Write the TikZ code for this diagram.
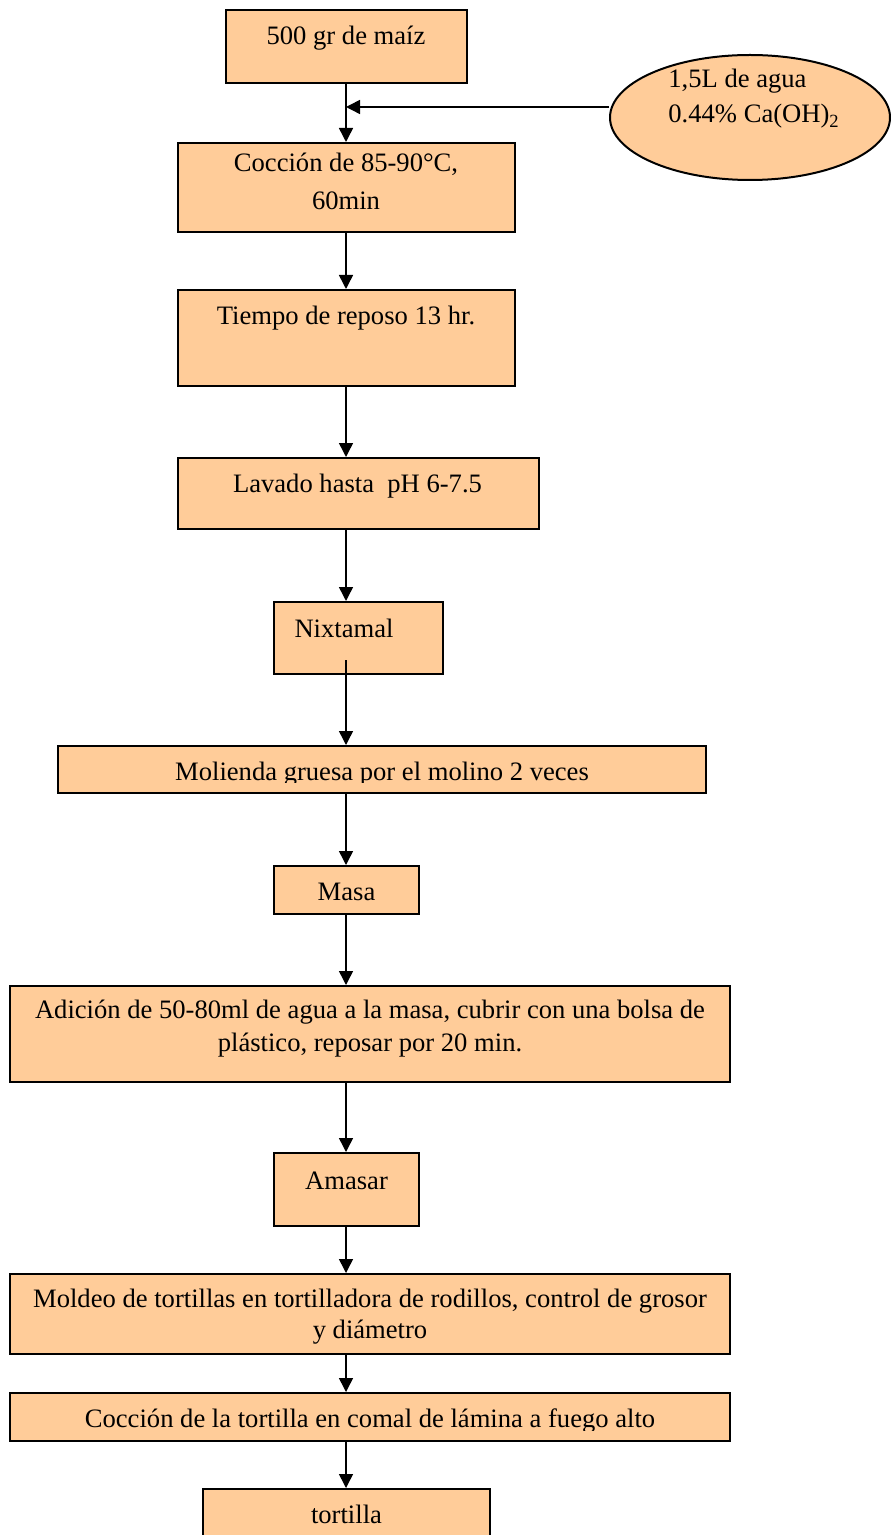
\documentclass[tikz,border=0pt]{standalone}
\usepackage{fontspec}
\setmainfont{Liberation Serif}
\usetikzlibrary{arrows.meta,shapes.geometric,fit}
\definecolor{peach}{HTML}{FFCC99}
\begin{document}
\begin{tikzpicture}[x=0.5pt,y=-0.5pt,
  box/.style={draw=black, line width=1pt, fill=peach, inner sep=0pt},
  txt/.style={inner sep=0pt, anchor=base, font=\fontsize{13.3pt}{16pt}\selectfont},
  arr/.style={line width=0.75pt, -{Triangle[length=7pt,width=7pt]}}]
\useasboundingbox (0,0) rectangle (890,1535);
\coordinate (ax) at (346,0);
% boxes
\node[box, fit={(226,10) (467,83)}] (b1) {};
\node[box, ellipse, minimum width=140pt, minimum height=62.5pt] (el) at (750,117.5) {};
\node[box, fit={(178,143) (515,232)}] (b2) {};
\node[box, fit={(178,290) (515,386)}] (b3) {};
\node[box, fit={(178,458) (539,529)}] (b4) {};
\node[box, fit={(274,602) (443,674)}] (b5) {};
\node[box, fit={(58,746) (706,793)}] (b6) {};
\node[box, fit={(274,866) (419,914)}] (b7) {};
\node[box, fit={(10,986) (730,1082)}] (b8) {};
\node[box, fit={(274,1153) (419,1226)}] (b9) {};
\node[box, fit={(10,1274) (730,1354)}] (b10) {};
\node[box, fit={(10,1393) (730,1441)}] (b11) {};
\node[box, fit={(203,1489) (490,1550)}] (b12) {};
% texts
\node[txt] (t1) at (346,45) {500 gr de maíz};
\node[txt, anchor=base west] (te1) at (668,88) {1,5L de agua};
\node[txt, anchor=base west] (te2) at (668,123) {0.44\% Ca(OH)\textsubscript{2}};
\node[txt] (t2a) at (346,172) {Cocción de 85-90°C,};
\node[txt] (t2b) at (346,210) {60min};
\node[txt] (t3) at (346,325) {Tiempo de reposo 13 hr.};
\node[txt] (t4) at (357.5,492) {Lavado hasta\ \ pH 6-7.5};
\node[txt] (t5) at (344,637) {Nixtamal};
\begin{scope}
  \clip (58,746) rectangle (706,782);
  \node[txt] (t6) at (382,780) {Molienda gruesa por el molino 2 veces};
\end{scope}
\node[txt] (t7) at (346.5,900) {Masa};
\node[txt] (t8a) at (370,1018) {Adición de 50-80ml de agua a la masa, cubrir con una bolsa de};
\node[txt] (t8b) at (370,1051) {plástico, reposar por 20 min.};
\node[txt] (t9) at (346.5,1189) {Amasar};
\node[txt] (t10a) at (370,1307) {Moldeo de tortillas en tortilladora de rodillos, control de grosor};
\node[txt] (t10b) at (370,1338) {y diámetro};
\begin{scope}
  \clip (10,1393) rectangle (730,1430);
  \node[txt] (t11) at (370,1427) {Cocción de la tortilla en comal de lámina a fuego alto};
\end{scope}
\node[txt] (t12) at (346.5,1523) {tortilla};
% connectors
\coordinate (inj) at (346,107);
\coordinate (n5) at (346,660);
\draw[arr] (b1.south -| ax) -- (b2.north -| ax);
\draw[arr] (el.west |- inj) -- (inj);
\draw[arr] (b2.south -| ax) -- (b3.north -| ax);
\draw[arr] (b3.south -| ax) -- (b4.north -| ax);
\draw[arr] (b4.south -| ax) -- (b5.north -| ax);
\draw[arr] (n5) -- (b6.north -| ax);
\draw[arr] (b6.south -| ax) -- (b7.north -| ax);
\draw[arr] (b7.south -| ax) -- (b8.north -| ax);
\draw[arr] (b8.south -| ax) -- (b9.north -| ax);
\draw[arr] (b9.south -| ax) -- (b10.north -| ax);
\draw[arr] (b10.south -| ax) -- (b11.north -| ax);
\draw[arr] (b11.south -| ax) -- (b12.north -| ax);
\end{tikzpicture}
\end{document}
